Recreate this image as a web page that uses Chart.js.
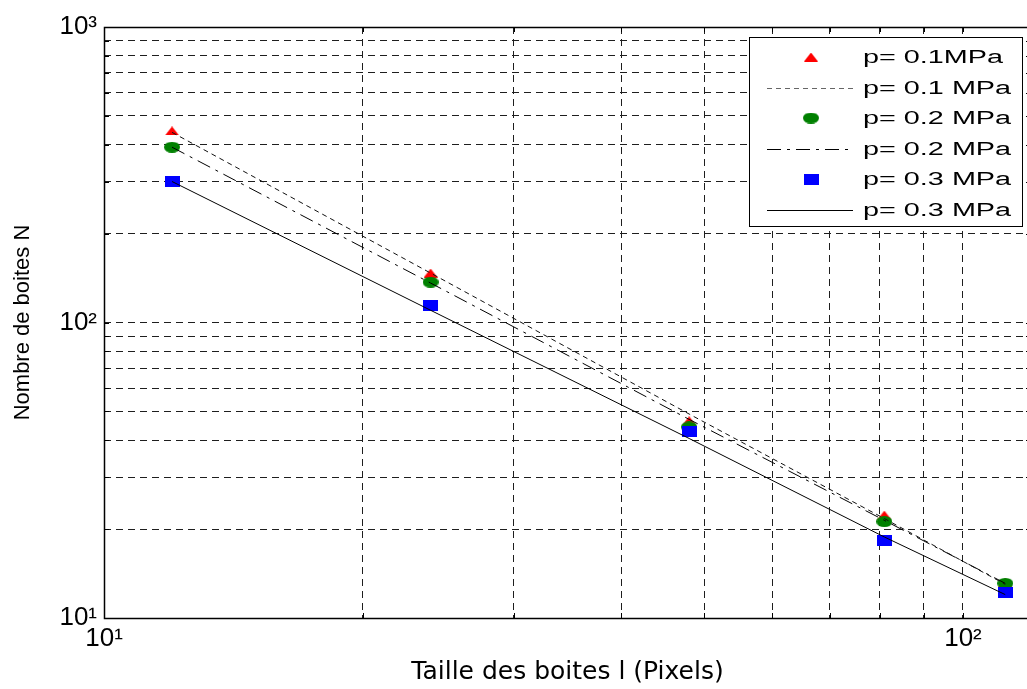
<!DOCTYPE html>
<html>
<head>
<meta charset="utf-8">
<script src="https://cdn.jsdelivr.net/npm/chart.js@4/dist/chart.umd.min.js"></script>
<style>
  html, body { margin: 0; padding: 0; background: #fff; overflow: hidden; }
  #wrap { width: 1040px; height: 689px; }
</style>
</head>
<body>
<div id="wrap"><canvas id="boxChart" width="1040" height="689"></canvas></div>
<script>
// Box-counting data (log-log)
const boxSizes = [12, 24, 48, 81, 112];
const countP01 = [445, 147, 46.5, 22.3, 13.2];
const countP02 = [392, 137, 44.3, 21.2, 13.1];
const countP03 = [300, 114, 42.7, 18.3, 12.2];
// fitted power-law lines, read at the same box sizes
const fitP01 = [440, 147, 49, 21.7, 13.0];
const fitP02 = [392, 136, 47, 21.4, 13.1];
const fitP03 = [300, 110, 40.5, 18.8, 12.0];

const xTicks = [10, 20, 30, 40, 50, 60, 70, 80, 90, 100];
const yTicks = [10, 20, 30, 40, 50, 60, 70, 80, 90, 100, 200, 300, 400, 500, 600, 700, 800, 900, 1000];
const decadeLabels = { 10: "10\u00b9", 100: "10\u00b2", 1000: "10\u00b3" };

const seriesLabels = ["p= 0.1MPa", "p= 0.1 MPa", "p= 0.2 MPa", "p= 0.2 MPa", "p= 0.3 MPa", "p= 0.3 MPa"];

(() => {
    // small canvases used as point markers (slightly wide, like the original)
    const markerImage = (w, h, color, shape) => {
        const c = document.createElement("canvas");
        c.width = w;
        c.height = h;
        const g = c.getContext("2d");
        g.fillStyle = color;
        g.beginPath();
        if (shape === "tri") {
            g.moveTo(w / 2, 0);
            g.lineTo(w, h);
            g.lineTo(0, h);
            g.closePath();
        } else if (shape === "ellipse") {
            g.ellipse(w / 2, h / 2, w / 2, h / 2, 0, 0, Math.PI * 2);
        } else {
            g.rect(0, 0, w, h);
        }
        g.fill();
        return c;
    };

    const triImg = markerImage(14, 9, "#ff0000", "tri");
    const dotImg = markerImage(16, 11, "#008000", "ellipse");
    const sqImg = markerImage(15, 11, "#0000ff", "rect");

    const toPoints = (vals) => boxSizes.map((x, i) => ({ x: x, y: vals[i] }));

    const markerSet = (label, vals, img, order) => ({
        label: label,
        data: toPoints(vals),
        showLine: false,
        pointStyle: img,
        pointRadius: 6,
        order: order,
    });

    const lineSet = (label, vals, dash, color, order) => ({
        label: label,
        data: toPoints(vals),
        showLine: true,
        pointRadius: 0,
        borderColor: color,
        borderWidth: 1,
        borderDash: dash,
        tension: 0,
        fill: false,
        order: order,
    });

    const datasets = [
        markerSet(seriesLabels[0], countP01, triImg, 6),
        lineSet(seriesLabels[1], fitP01, [5, 4], "#111", 1),
        markerSet(seriesLabels[2], countP02, dotImg, 5),
        lineSet(seriesLabels[3], fitP02, [14, 6, 3, 6], "#000", 2),
        markerSet(seriesLabels[4], countP03, sqImg, 4),
        lineSet(seriesLabels[5], fitP03, [], "#000", 3),
    ];

    // axes box plus inward tick marks, as in the original plot
    const frame = {
        id: "frame",
        afterDatasetsDraw(chart) {
            const { ctx, chartArea: a, scales } = chart;
            ctx.save();
            ctx.strokeStyle = "#000";
            ctx.lineWidth = 1;
            ctx.setLineDash([]);
            ctx.beginPath();
            scales.x.ticks.forEach((t) => {
                const px = Math.round(scales.x.getPixelForValue(t.value)) + 0.5;
                ctx.moveTo(px, a.bottom);
                ctx.lineTo(px, a.bottom - 5);
                ctx.moveTo(px, a.top);
                ctx.lineTo(px, a.top + 5);
            });
            scales.y.ticks.forEach((t) => {
                const py = Math.round(scales.y.getPixelForValue(t.value)) + 0.5;
                ctx.moveTo(a.left, py);
                ctx.lineTo(a.left + 5, py);
                ctx.moveTo(a.right, py);
                ctx.lineTo(a.right - 5, py);
            });
            ctx.stroke();
            ctx.lineWidth = 1.5;
            ctx.strokeRect(Math.round(a.left) + 0.5, Math.round(a.top) + 0.5,
                Math.round(a.right - a.left), Math.round(a.bottom - a.top));
            ctx.restore();
        },
    };

    // boxed legend in the upper right corner
    const boxLegend = {
        id: "boxLegend",
        afterDraw(chart) {
            const { ctx } = chart;
            const box = { x: 749.5, y: 37.5, w: 273, h: 189 };
            const rowY0 = 57;
            const rowStep = 30.6;
            ctx.save();
            ctx.fillStyle = "#fff";
            ctx.fillRect(box.x, box.y, box.w, box.h);
            ctx.strokeStyle = "#000";
            ctx.lineWidth = 1;
            ctx.setLineDash([]);
            ctx.strokeRect(box.x, box.y, box.w, box.h);

            chart.data.datasets.forEach((ds, i) => {
                const y = Math.round(rowY0 + i * rowStep);
                if (ds.showLine) {
                    ctx.strokeStyle = i === 1 ? "#666" : "#000";
                    ctx.lineWidth = 1;
                    ctx.setLineDash(ds.borderDash);
                    ctx.beginPath();
                    ctx.moveTo(767, y + 0.5);
                    ctx.lineTo(853, y + 0.5);
                    ctx.stroke();
                    ctx.setLineDash([]);
                } else {
                    const img = ds.pointStyle;
                    ctx.drawImage(img, 811 - img.width / 2, y - img.height / 2);
                }
                ctx.save();
                ctx.translate(863, y + 1);
                ctx.scale(1.6, 1);
                ctx.fillStyle = "#000";
                ctx.font = '18px "Liberation Sans", Arial, sans-serif';
                ctx.textBaseline = "middle";
                ctx.fillText(ds.label, 0, 0);
                ctx.restore();
            });
            ctx.restore();
        },
    };

    const gridStyle = {
        color: "#1e1e1e",
        lineWidth: 1,
        drawTicks: false,
    };

    new Chart(document.getElementById("boxChart"), {
        type: "scatter",
        data: { datasets: datasets },
        plugins: [frame, boxLegend],
        options: {
            responsive: false,
            animation: false,
            events: [],
            layout: { padding: { left: 0, top: 27, right: 9, bottom: 0 } },
            plugins: {
                legend: { display: false },
                tooltip: { enabled: false },
            },
            scales: {
                x: {
                    type: "logarithmic",
                    min: 10,
                    max: 120,
                    border: { display: false, dash: [7, 5] },
                    grid: gridStyle,
                    afterBuildTicks: (scale) => {
                        scale.ticks = xTicks.map((v) => ({ value: v }));
                    },
                    afterFit: (scale) => {
                        scale.height = 71;
                    },
                    ticks: {
                        autoSkip: false,
                        maxRotation: 0,
                        padding: 5,
                        color: "#000",
                        font: { family: '"Liberation Sans", Arial, sans-serif', size: 26 },
                        callback: (v) => decadeLabels[v] || "",
                    },
                    title: {
                        display: true,
                        text: "Taille des boites l (Pixels)",
                        color: "#000",
                        font: { family: '"DejaVu Sans", sans-serif', size: 25 },
                        padding: { top: 0, bottom: 2 },
                    },
                },
                y: {
                    type: "logarithmic",
                    min: 10,
                    max: 1000,
                    border: { display: false, dash: [7, 5] },
                    grid: gridStyle,
                    afterBuildTicks: (scale) => {
                        scale.ticks = yTicks.map((v) => ({ value: v }));
                    },
                    afterFit: (scale) => {
                        scale.width = 104;
                    },
                    ticks: {
                        autoSkip: false,
                        padding: 7,
                        color: "#000",
                        font: { family: '"Liberation Sans", Arial, sans-serif', size: 26 },
                        callback: (v) => decadeLabels[v] || "",
                    },
                    title: {
                        display: true,
                        text: "Nombre de boites N",
                        color: "#000",
                        font: { family: '"Liberation Sans Narrow", "Liberation Sans", sans-serif', size: 22 },
                        padding: { top: 10, bottom: 0 },
                    },
                },
            },
        },
    });
})();
</script>
</body>
</html>
